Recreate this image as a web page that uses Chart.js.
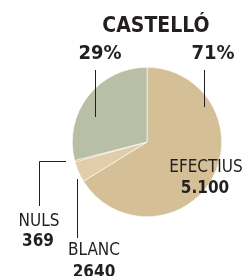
<!DOCTYPE html>
<html>
<head>
<meta charset="utf-8">
<script src="https://cdn.jsdelivr.net/npm/chart.js@4/dist/chart.umd.min.js"></script>
<style>
  html, body { margin: 0; padding: 0; background: #fff; }
  #wrap { width: 245px; height: 276px; position: relative; }
</style>
</head>
<body>
<div id="wrap"><canvas id="chart" width="245" height="276"></canvas></div>
<script>
const title = 'CASTELLÓ';
const labels = ['Efectius', 'Blanc', 'Nuls', 'Abstenció'];
const shares = [66.2, 4.5, 0.3, 29.0];
const colors = ['#d4bf96', '#e1cda9', '#c9a06c', '#b8bfa6'];
const participation = ['29%', '71%'];
const votes = { efectius: '5.100', blanc: '2640', nuls: '369' };

const font = '"DejaVu Sans Condensed", "DejaVu Sans", sans-serif';

const labelsPlugin = {
  id: 'labelsPlugin',
  afterDraw(chart) {
    const ctx = chart.ctx;
    ctx.save();
    ctx.fillStyle = '#231f20';
    ctx.textAlign = 'center';
    ctx.textBaseline = 'alphabetic';

    ctx.font = 'bold 21px ' + font;
    ctx.fillText(title, 156, 32);
    ctx.font = 'bold 20px ' + font;
    ctx.fillText(participation[0], 100, 59);
    ctx.fillText(participation[1], 213, 59);

    ctx.font = '17px ' + font;
    ctx.fillText('EFECTIUS', 206, 172);
    ctx.fillText('NULS', 39, 226);
    ctx.fillText('BLANC', 94, 255);
    ctx.font = 'bold 17px ' + font;
    ctx.fillText(votes.efectius, 205, 193);
    ctx.fillText(votes.nuls, 38, 246);
    ctx.fillText(votes.blanc, 94, 277);

    ctx.strokeStyle = '#231f20';
    ctx.lineWidth = 1;
    ctx.beginPath();
    ctx.moveTo(95.5, 70); ctx.lineTo(95.5, 117);
    ctx.moveTo(204.5, 70); ctx.lineTo(204.5, 107);
    ctx.moveTo(66, 161.5); ctx.lineTo(39.5, 161.5); ctx.lineTo(39.5, 206);
    ctx.moveTo(77.5, 179); ctx.lineTo(77.5, 238);
    ctx.stroke();
    ctx.restore();
  }
};

new Chart(document.getElementById('chart').getContext('2d'), {
  type: 'pie',
  data: {
    labels: labels,
    datasets: [{
      data: shares,
      backgroundColor: colors,
      borderColor: '#ffffff',
      borderWidth: 0.6
    }]
  },
  options: {
    responsive: false,
    animation: false,
    layout: { padding: { left: 72, right: 23, top: 67, bottom: 59 } },
    plugins: {
      legend: { display: false },
      tooltip: { enabled: false }
    }
  },
  plugins: [labelsPlugin]
});
</script>
</body>
</html>
